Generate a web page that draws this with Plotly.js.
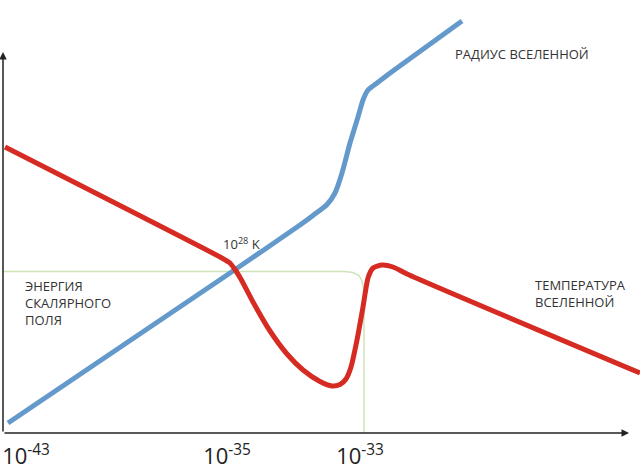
<!DOCTYPE html>
<html>
<head>
<meta charset="utf-8">
<script src="https://cdn.plot.ly/plotly-3.0.1.min.js"></script>
<style>html,body{margin:0;padding:0;background:#fff;}#chart{width:640px;height:474px;}</style>
</head>
<body>
<div id="chart"></div>
<script>
// Schematic units: x = time position, y = relative magnitude
const radiusX = [8, 233, 300, 313, 327, 335, 342, 350, 358, 363, 368, 377, 397, 462];
const radiusY = [10, 162, 208, 217.5, 228.5, 240, 260, 290, 316, 333, 343, 350, 365, 412];

const tempX = [5, 220, 230, 236, 242, 253, 270, 287, 303, 320, 332, 340, 346, 351, 357, 363, 368, 373, 382, 393, 407, 640];
const tempY = [286, 176, 170, 162, 152, 131, 102, 79, 63, 51.5, 47, 48.5, 54, 66, 93, 126, 155, 165, 168, 166, 159, 60];

const fieldX = [3, 345, 353, 359, 362, 364, 364];
const fieldY = [161.5, 161.5, 160.5, 157.5, 152, 143, 0];

const tickVals = [26, 227, 360];
const tickText = ['10<sup>-43</sup>', '10<sup>-35</sup>', '10<sup>-33</sup>'];

const labelRadius = 'РАДИУС ВСЕЛЕННОЙ';
const labelTemp = 'ТЕМПЕРАТУРА<br>ВСЕЛЕННОЙ';
const labelField = 'ЭНЕРГИЯ<br>СКАЛЯРНОГО<br>ПОЛЯ';
const labelPoint = '10<sup>28</sup> K';
const labelTime = 'ВРЕМЯ, СЕКУНДЫ';

const FONT = 'Open Sans, Noto Sans, sans-serif';
const TXT = '#333333';

const traces = [
  {x: fieldX, y: fieldY, mode: 'lines', line: {color: '#cfe3b8', width: 1.5}, hoverinfo: 'skip'},
  {x: radiusX, y: radiusY, mode: 'lines', line: {color: '#6399cb', width: 5, shape: 'spline', smoothing: 0.6}, hoverinfo: 'skip'},
  {x: tempX, y: tempY, mode: 'lines', line: {color: '#d62b22', width: 5, shape: 'spline', smoothing: 0.6}, hoverinfo: 'skip'}
];

const layout = {
  width: 640, height: 474,
  margin: {l: 0, r: 0, t: 0, b: 41, pad: 0},
  paper_bgcolor: '#ffffff', plot_bgcolor: '#ffffff',
  showlegend: false,
  font: {family: FONT, color: TXT},
  xaxis: {
    range: [0, 640], showgrid: false, zeroline: false, showline: false,
    tickmode: 'array', tickvals: tickVals, ticktext: tickText, ticks: '',
    ticklabelstandoff: 8,
    tickfont: {family: FONT, size: 22, color: '#222222'}, fixedrange: true
  },
  yaxis: {range: [0, 433], visible: false, fixedrange: true},
  annotations: [
    {x: 629, y: 0, ax: 3, ay: 0, axref: 'x', ayref: 'y', xref: 'x', yref: 'y', text: '', showarrow: true,
     arrowhead: 2, arrowsize: 1, arrowwidth: 1.5, arrowcolor: '#222222', standoff: 0, startstandoff: 0},
    {x: 3, y: 381, ax: 3, ay: 0, axref: 'x', ayref: 'y', xref: 'x', yref: 'y', text: '', showarrow: true,
     arrowhead: 2, arrowsize: 1, arrowwidth: 1.5, arrowcolor: '#222222', standoff: 0, startstandoff: 0},
    {x: 453, y: 379, xref: 'x', yref: 'y', text: labelRadius, showarrow: false, xanchor: 'left', yanchor: 'middle',
     font: {size: 13, color: TXT}},
    {x: 533, y: 140, xref: 'x', yref: 'y', text: labelTemp, showarrow: false, xanchor: 'left', yanchor: 'middle', align: 'left',
     font: {size: 13, color: TXT}},
    {x: 23, y: 130, xref: 'x', yref: 'y', text: labelField, showarrow: false, xanchor: 'left', yanchor: 'middle', align: 'left',
     font: {size: 13, color: TXT}},
    {x: 221, y: 190, xref: 'x', yref: 'y', text: labelPoint, showarrow: false, xanchor: 'left', yanchor: 'middle',
     font: {size: 13, color: TXT}},
    {x: 629, y: -16, xref: 'x', yref: 'y', text: labelTime, showarrow: false, xanchor: 'right', yanchor: 'middle',
     font: {size: 13, color: TXT}}
  ]
};

Plotly.newPlot('chart', traces, layout, {staticPlot: true, displayModeBar: false});
</script>
</body>
</html>
